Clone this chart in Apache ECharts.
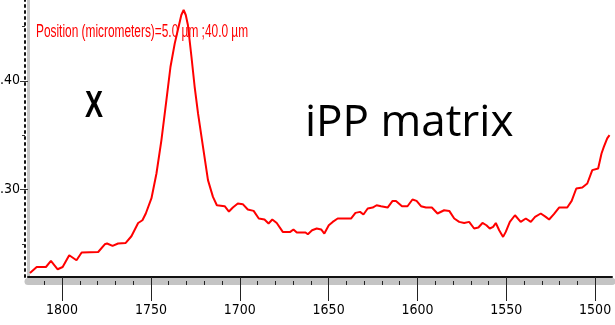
<!doctype html>
<html>
  <head>
    <meta charset="utf-8">
    <title>iPP matrix spectrum</title>
    <script src="https://cdn.jsdelivr.net/npm/echarts@6.0.0/dist/echarts.min.js"></script>
    <style>
      html, body { margin: 0; padding: 0; background: #fff; }
      #main { width: 615px; height: 325px; }
    </style>
  </head>
  <body>
    <div id="main"></div>
    <script type="text/javascript">
      // wavenumber (cm-1) from left to right
      var waveNumbers = [
        1818.1, 1814.3, 1809.1, 1806.3, 1802.5, 1799.7, 1796.0, 1791.9, 1789.0, 1779.7,
        1776.0, 1774.7, 1771.6, 1768.5, 1764.2, 1761.0, 1757.2, 1754.8, 1752.9, 1749.7,
        1746.9, 1744.1, 1741.3, 1739.0, 1736.6, 1734.2, 1732.9, 1731.6, 1730.4, 1729.2,
        1727.2, 1725.4, 1723.5, 1720.7, 1717.9, 1715.1, 1712.9, 1708.5, 1706.1, 1703.9,
        1701.1, 1698.3, 1695.5, 1692.2, 1689.3, 1686.1, 1683.8, 1681.7, 1679.2, 1675.8,
        1671.6, 1669.8, 1667.9, 1663.0, 1661.7, 1659.3, 1656.7, 1654.2, 1652.4, 1649.9,
        1647.7, 1644.9, 1637.4, 1634.9, 1632.3, 1630.4, 1628.0, 1625.2, 1623.0, 1620.5,
        1616.8, 1614.0, 1612.1, 1608.7, 1605.6, 1602.8, 1600.5, 1598.0, 1595.2, 1591.9,
        1588.7, 1585.0, 1582.1, 1579.3, 1576.5, 1573.7, 1570.9, 1568.1, 1565.7, 1563.4,
        1561.2, 1559.3, 1557.4, 1555.9, 1554.0, 1551.8, 1550.3, 1548.0, 1545.1, 1541.9,
        1539.0, 1536.2, 1533.8, 1530.6, 1527.8, 1525.9, 1523.2, 1520.3, 1515.7, 1513.2,
        1510.6, 1507.2, 1504.4, 1501.6, 1498.3, 1496.4, 1495.1, 1493.2, 1491.9
      ];
      // absorbance
      var absorbance = [
        0.2232, 0.2287, 0.2287, 0.2343, 0.2266, 0.2287, 0.2395, 0.2349, 0.2420, 0.2425,
        0.2496, 0.2503, 0.2481, 0.2503, 0.2508, 0.2570, 0.2692, 0.2717, 0.2779, 0.2920,
        0.3147, 0.3454, 0.3822, 0.4129, 0.4344, 0.4513, 0.4605, 0.4651, 0.4605, 0.4513,
        0.4221, 0.3945, 0.3700, 0.3392, 0.3086, 0.2932, 0.2855, 0.2846, 0.2797, 0.2834,
        0.2871, 0.2865, 0.2816, 0.2803, 0.2733, 0.2724, 0.2687, 0.2724, 0.2692, 0.2610,
        0.2610, 0.2632, 0.2604, 0.2604, 0.2588, 0.2625, 0.2641, 0.2632, 0.2595, 0.2671,
        0.2702, 0.2733, 0.2733, 0.2785, 0.2794, 0.2770, 0.2825, 0.2834, 0.2855, 0.2846,
        0.2834, 0.2895, 0.2895, 0.2846, 0.2846, 0.2908, 0.2895, 0.2846, 0.2834, 0.2834,
        0.2779, 0.2809, 0.2803, 0.2733, 0.2702, 0.2692, 0.2702, 0.2641, 0.2650, 0.2692,
        0.2671, 0.2641, 0.2656, 0.2692, 0.2625, 0.2564, 0.2610, 0.2702, 0.2763, 0.2702,
        0.2733, 0.2702, 0.2748, 0.2779, 0.2748, 0.2724, 0.2773, 0.2834, 0.2834, 0.2895,
        0.3009, 0.3018, 0.3055, 0.3178, 0.3193, 0.3331, 0.3392, 0.3470, 0.3500
      ];
      var xMajorTicks = [1500, 1550, 1600, 1650, 1700, 1750, 1800];
      var xMinorTicks = [1500, 1510, 1520, 1530, 1540, 1550, 1560, 1570, 1580, 1590,
                         1600, 1610, 1620, 1630, 1640, 1650, 1660, 1670, 1680, 1690,
                         1700, 1710, 1720, 1730, 1740, 1750, 1760, 1770, 1780, 1790,
                         1800, 1810];
      var yMajorTicks = [0.30, 0.40];
      var yMinorTicks = [0.25, 0.35, 0.45];
      var titleText = 'Position (micrometers)=5.0 \u00b5m ;40.0 \u00b5m';

      var xMin = 1490.5, xMax = 1819.2;
      var yMin = 0.2195, yMax = 0.4743;

      var labelFont = '"DejaVu Sans Condensed", "Liberation Sans", sans-serif';

      var seriesData = waveNumbers.map(function (w, i) { return [w, absorbance[i]]; });

      var myChart = echarts.init(document.getElementById('main'));
      var option = {
        animation: false,
        grid: {
          left: 28,
          right: 3,
          top: 0,
          bottom: 48,
          containLabel: false,
          outerBoundsMode: 'none'
        },
        xAxis: [
          {
            // grey band with the small ticks
            type: 'value', inverse: true, min: xMin, max: xMax,
            position: 'bottom', offset: 4,
            axisLine: { lineStyle: { color: '#c4c4c4', width: 7 } },
            axisTick: { customValues: xMinorTicks, length: 4, lineStyle: { color: '#222', width: 1 } },
            axisLabel: { show: false },
            splitLine: { show: false }
          },
          {
            type: 'value', inverse: true, min: xMin, max: xMax,
            position: 'bottom',
            axisLine: { lineStyle: { color: '#111', width: 2 } },
            axisTick: { customValues: xMajorTicks, length: 24, lineStyle: { color: '#222', width: 1 } },
            axisLabel: {
              customValues: xMajorTicks,
              margin: 26,
              color: '#000',
              fontFamily: labelFont,
              fontSize: 14,
              formatter: function (v) { return String(v); }
            },
            splitLine: { show: false }
          }
        ],
        yAxis: [
          {
            type: 'value', min: yMin, max: yMax, position: 'left',
            axisLine: { show: true, lineStyle: { color: '#c8c8c8', width: 3 } },
            axisTick: { show: true, customValues: yMajorTicks, length: 8, lineStyle: { color: '#333' } },
            axisLabel: {
              customValues: yMajorTicks,
              margin: 8,
              color: '#000',
              fontFamily: labelFont,
              fontSize: 14,
              formatter: function (v) { return v.toFixed(2); }
            },
            splitLine: { show: false }
          },
          {
            // dotted edge
            type: 'value', min: yMin, max: yMax, position: 'left', offset: 3,
            axisLine: { show: true, lineStyle: { color: '#111', width: 2, type: [2, 4] } },
            axisTick: { show: true, customValues: yMinorTicks, length: 3, lineStyle: { color: '#333' } },
            axisLabel: { show: false },
            splitLine: { show: false }
          }
        ],
        graphic: [
          {
            type: 'text', x: 36, y: 32, scaleX: 0.66, z: 10,
            style: {
              text: titleText, fill: '#ff0000',
              font: '18px "Liberation Sans"', verticalAlign: 'middle'
            }
          },
          {
            type: 'text', x: 85, y: 107, scaleX: 0.75, z: 10,
            style: {
              text: 'X', fill: '#000',
              font: 'bold 36px "Liberation Sans"', verticalAlign: 'middle'
            }
          },
          {
            type: 'text', x: 305, y: 123, z: 10,
            style: {
              text: 'iPP matrix', fill: '#000',
              font: '44px "Open Sans"', verticalAlign: 'middle'
            }
          }
        ],
        series: [
          {
            type: 'line',
            xAxisIndex: 1,
            yAxisIndex: 0,
            data: seriesData,
            showSymbol: false,
            smooth: false,
            lineStyle: { color: '#ff0000', width: 2 },
            itemStyle: { color: '#ff0000' },
            z: 3
          }
        ]
      };
      myChart.setOption(option);
    </script>
  </body>
</html>
